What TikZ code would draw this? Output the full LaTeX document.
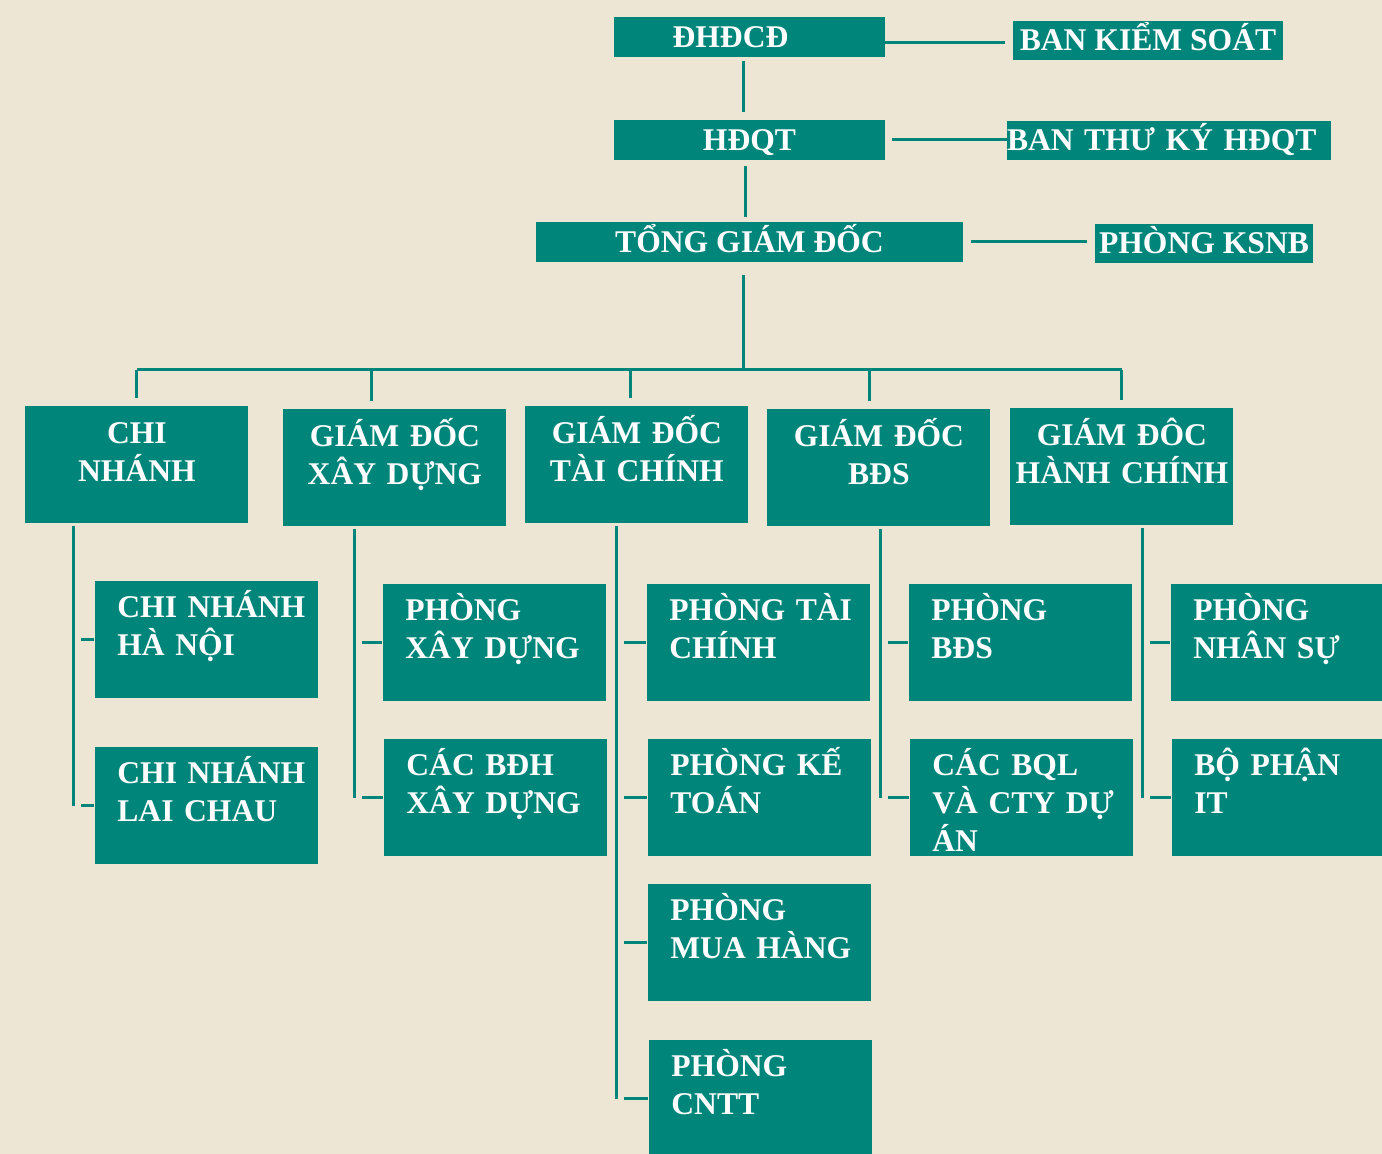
\documentclass[tikz,border=0pt]{standalone}
\usepackage{fontspec}
\setmainfont{Liberation Serif}
\usetikzlibrary{positioning}
\definecolor{orgteal}{RGB}{0,133,122}
\definecolor{paper}{RGB}{237,230,212}
\begin{document}
\begin{tikzpicture}[
   x=0.5pt, y=-0.5pt,
   every node/.style={font=\bfseries\fontsize{15.8}{19}\selectfont, text=white},
   head/.style={rectangle, fill=orgteal, inner sep=0pt, minimum height=20pt, text height=10.5pt, text depth=0pt},
   director/.style={rectangle, fill=orgteal, anchor=north west, inner sep=0pt, text width=111.5pt, align=center, text height=18.5pt, text depth=40pt},
   dept/.style={rectangle, fill=orgteal, anchor=north west, inner sep=0pt, text width=111.5pt, align=left, text height=18pt, text depth=40.5pt, execute at begin node={\leftskip=11pt}},
   link/.style={draw=orgteal, line width=1.5pt}
   ]
   \useasboundingbox (0,0) rectangle (1382,1154);
   \fill[paper] (0,0) rectangle (1382,1154);

   % top of the chart
   \node[head, minimum width=135.5pt] (dhdcd) at (749.5,37) {ĐHĐCĐ\hspace*{19pt}};
   \node[head, minimum width=135.5pt] (hdqt) at (749.5,140) {HĐQT};
   \node[head, minimum width=213.5pt] (tgd) at (749.5,242) {TỔNG GIÁM ĐỐC};
   \node[head, minimum width=135pt, minimum height=19.5pt] (bks) at (1148,40.5) {BAN KIỂM SOÁT};
   \node[head, text width=162pt, align=left, minimum height=19.5pt] (btk) at (1169,140.5) {BAN THƯ KÝ HĐQT};
   \node[head, minimum width=109pt, minimum height=19.5pt] (ksnb) at (1204,243.5) {PHÒNG KSNB};

   % directors
   \node[director] (cn) at (25,406) {CHI\\NHÁNH};
   \node[director] (gdxd) at (283,409) {GIÁM ĐỐC\\XÂY DỰNG};
   \node[director] (gdtc) at (525,406) {GIÁM ĐỐC\\TÀI CHÍNH};
   \node[director] (gdbds) at (767,409) {GIÁM ĐỐC\\BĐS};
   \node[director] (gdhc) at (1010,408) {GIÁM ĐÔC\\HÀNH CHÍNH};

   % departments
   \node[dept] (cnhn) at (95,581) {CHI NHÁNH\\HÀ NỘI};
   \node[dept] (cnlc) at (95,747) {CHI NHÁNH\\LAI CHAU};
   \node[dept] (pxd) at (383,584) {PHÒNG\\XÂY DỰNG};
   \node[dept] (bdh) at (384,739) {CÁC BĐH\\XÂY DỰNG};
   \node[dept] (ptc) at (647,584) {PHÒNG TÀI\\CHÍNH};
   \node[dept] (pkt) at (648,739) {PHÒNG KẾ\\TOÁN};
   \node[dept] (pmh) at (648,884) {PHÒNG\\MUA HÀNG};
   \node[dept] (pcntt) at (649,1040) {PHÒNG\\CNTT};
   \node[dept] (pbds) at (909,584) {PHÒNG\\BĐS};
   \node[dept] (bql) at (910,739) {CÁC BQL\\VÀ CTY DỰ\\ÁN};
   \node[dept] (pns) at (1171,584) {PHÒNG\\NHÂN SỰ};
   \node[dept] (pit) at (1172,739) {BỘ PHẬN\\IT};

   \draw[link, shorten <=2pt, shorten >=4pt] ([xshift=-3.25pt]dhdcd.south) -- ([xshift=-3.25pt]hdqt.north);
   \draw[link, shorten <=3pt, shorten >=2.5pt] ([xshift=-2.25pt]hdqt.south) -- ([xshift=-2.25pt]tgd.north);
   \draw[link, shorten >=4pt] ([yshift=-3pt]dhdcd.east) -- ([yshift=-3pt]dhdcd.east -| bks.west);
   \draw[link, shorten <=3.5pt] (hdqt) -- (hdqt -| btk.west);
   \draw[link, shorten <=4pt, shorten >=4pt] (tgd) -- (tgd -| ksnb.west);

   \coordinate (bus) at (743,370);
   \draw[link, shorten <=6.5pt] ([xshift=-3.25pt]tgd.south) -- (bus);
   \draw[link] (cn.north |- bus) -- (gdhc.north |- bus);
   \foreach \n/\dx in {cn/0pt, gdxd/-11.75pt, gdtc/-3.25pt, gdbds/-4.75pt, gdhc/0pt}
      \draw[link, shorten >=4pt] ([xshift=\dx]\n.north |- bus) -- ([xshift=\dx]\n.north);

   \foreach \n/\dx in {cn/-31.75pt, gdxd/-20.25pt, gdtc/-10.25pt, gdbds/0.75pt, gdhc/10.25pt}
      \coordinate (\n-spine) at ([xshift=\dx, yshift=-1pt]\n.south);
   \foreach \n/\last in {cn/cnlc, gdxd/bdh, gdtc/pcntt, gdbds/bql, gdhc/pit}
      \draw[link] (\n-spine) -- (\n-spine |- \last.west);
   \foreach \n/\c in {cn/cnhn, cn/cnlc, gdxd/pxd, gdxd/bdh, gdtc/ptc, gdtc/pkt, gdtc/pmh, gdtc/pcntt, gdbds/pbds, gdbds/bql, gdhc/pns, gdhc/pit}
      \draw[link, shorten <=4pt, shorten >=0.5pt] (\n-spine |- \c.west) -- (\c.west);
\end{tikzpicture}
\end{document}
